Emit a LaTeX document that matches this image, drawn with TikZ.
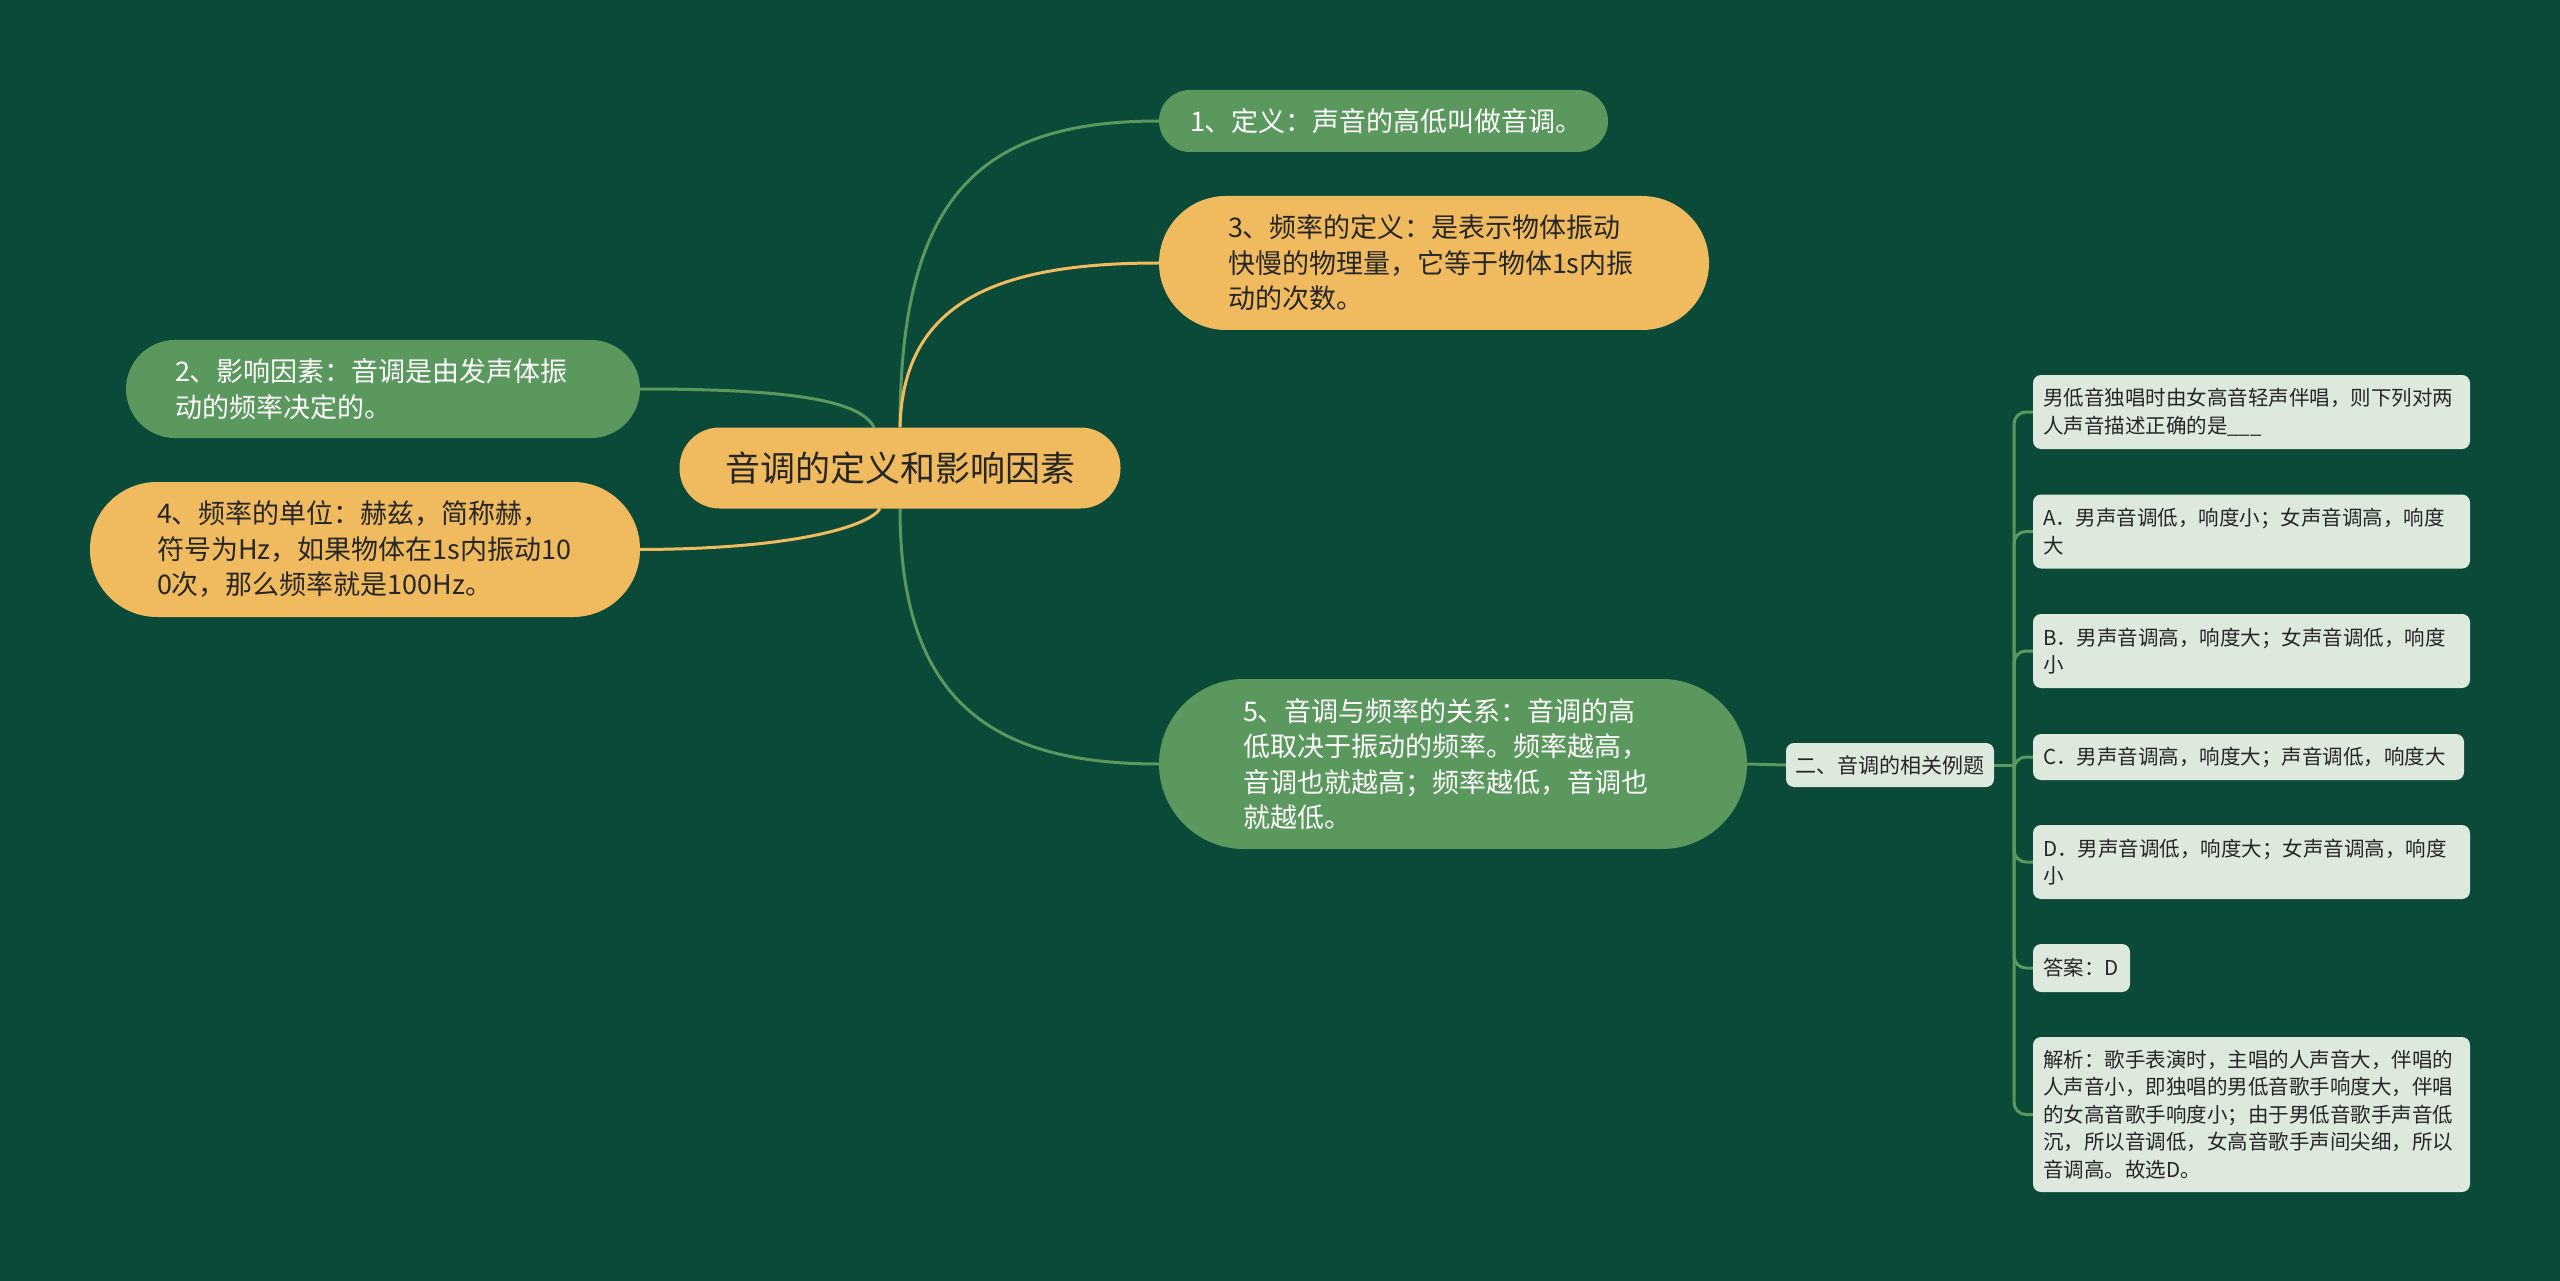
\documentclass[tikz,border=0pt]{standalone}
\usepackage{fontspec}
\setmainfont{Noto Sans CJK SC}
\usetikzlibrary{calc}
\definecolor{bgc}{HTML}{0B4A39}
\definecolor{gn}{HTML}{5A985D}
\definecolor{og}{HTML}{F0BA5F}
\definecolor{lt}{HTML}{DDE9DD}
\definecolor{dk}{HTML}{262626}
\pgfdeclarelayer{bgl}
\pgfsetlayers{bgl,main}
\begin{document}
\begin{tikzpicture}[x=1pt,y=-1pt,
  base/.style={inner sep=0pt, align=left},
  gnode/.style={base, fill=gn, text=white, font=\fontsize{27}{35.5}\selectfont},
  onode/.style={base, fill=og, text=dk, font=\fontsize{27}{35.5}\selectfont},
  lbox/.style={base, fill=lt, text=dk, rounded corners=8, font=\fontsize{20.5}{27.5}\selectfont},
  conn/.style={line width=3},
]
\useasboundingbox (0,0) rectangle (2560,1281);
\begin{pgfonlayer}{bgl}
\fill[bgc] (0,0) rectangle (2560,1281);
\end{pgfonlayer}

\node[onode, align=center, minimum width=441, minimum height=81, rounded corners=40, font=\fontsize{35}{42}\selectfont] (root) at (900,468) {音调的定义和影响因素};

\node[gnode, minimum width=449, minimum height=62, rounded corners=31, text width=387] (n1) at (1383.5,121) {1、定义：声音的高低叫做音调。};
\node[onode, minimum width=550, minimum height=134, rounded corners=67, text width=412] (n3) at (1434,263) {3、频率的定义：是表示物体振动\\快慢的物理量，它等于物体1s内振\\动的次数。};
\node[gnode, minimum width=514, minimum height=98, rounded corners=49, text width=416] (n2) at (383,389) {2、影响因素：音调是由发声体振\\动的频率决定的。};
\node[onode, minimum width=550, minimum height=135, rounded corners=67, text width=416] (n4) at (365,549.5) {4、频率的单位：赫兹，简称赫，\\符号为Hz，如果物体在1s内振动10\\0次，那么频率就是100Hz。};
\node[gnode, minimum width=588, minimum height=170, rounded corners=85, text width=420] (n5) at (1453,764) {5、音调与频率的关系：音调的高\\低取决于振动的频率。频率越高，\\音调也就越高；频率越低，音调也\\就越低。};

\node[lbox, align=center, minimum width=208, minimum height=44, font=\fontsize{21}{26}\selectfont] (sub) at (1890,765) {二、音调的相关例题};

\node[lbox, minimum width=437, minimum height=74, text width=417] (q) at (2251.5,412) {男低音独唱时由女高音轻声伴唱，则下列对两\\人声音描述正确的是\_\_\_};
\node[lbox, minimum width=437, minimum height=74, text width=417] (a) at (2251.5,531.5) {A．男声音调低，响度小；女声音调高，响度\\大};
\node[lbox, minimum width=437, minimum height=74, text width=417] (b) at (2251.5,651) {B．男声音调高，响度大；女声音调低，响度\\小};
\node[lbox, minimum width=431, minimum height=46, text width=411] (c) at (2248.5,757) {C．男声音调高，响度大；声音调低，响度大};
\node[lbox, minimum width=437, minimum height=74, text width=417] (d) at (2251.5,862) {D．男声音调低，响度大；女声音调高，响度\\小};
\node[lbox, minimum width=97, minimum height=48, text width=77] (ans) at (2081.5,968) {答案：D};
\node[lbox, minimum width=437, minimum height=155, text width=417] (ex) at (2251.5,1114.5) {解析：歌手表演时，主唱的人声音大，伴唱的\\人声音小，即独唱的男低音歌手响度大，伴唱\\的女高音歌手响度小；由于男低音歌手声音低\\沉，所以音调低，女高音歌手声间尖细，所以\\音调高。故选D。};

\coordinate (hub) at (2014,765);
\begin{pgfonlayer}{bgl}
\draw[gn, conn] (root.north) .. controls (900,196) and (980,121) .. (n1.west);
\draw[og, conn] (root.north) .. controls (903,300) and (1000,263) .. (n3.west);
\draw[gn, conn] (root.south) .. controls (900,700) and (990,764) .. (n5.west);
\draw[gn, conn] (n2.east) .. controls (790,389) and (860,400) .. ($(root.north)+(-26,0)$);
\draw[og, conn] (n4.east) .. controls (800,549) and (870,525) .. ($(root.south)+(-20,0)$);
\draw[gn, conn] (n5.east) -- (sub.west);
\draw[gn, conn] (sub.east) -- (hub);
\foreach \bx in {q,a,b,c,d,ans,ex}
  \draw[gn, conn, rounded corners=12] (hub) |- (\bx.west);
\end{pgfonlayer}
\end{tikzpicture}
\end{document}
